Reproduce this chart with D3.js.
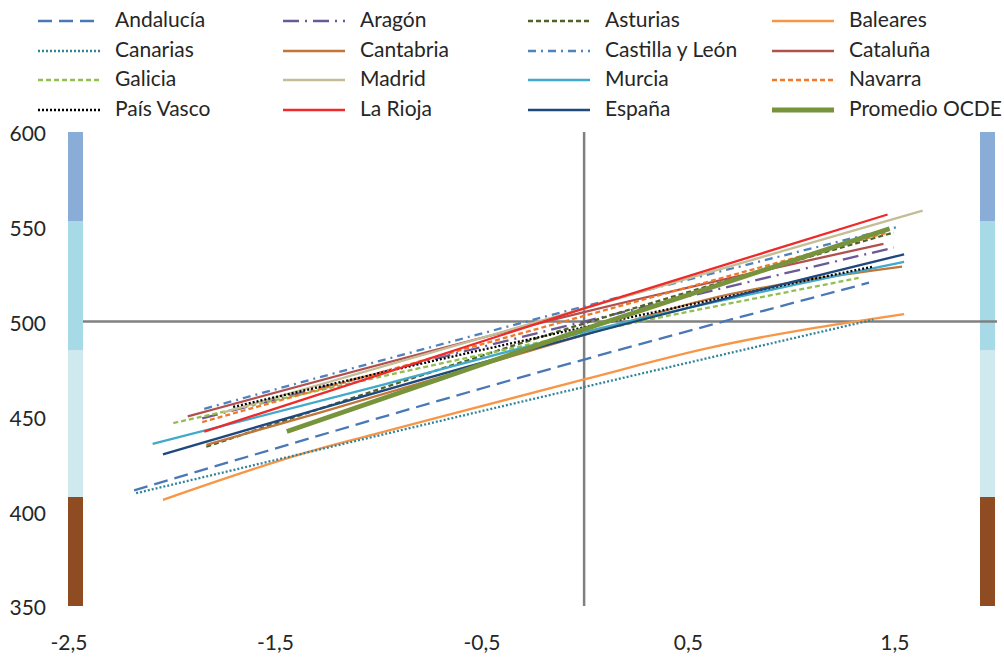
<!DOCTYPE html>
<html><head><meta charset="utf-8">
<script src="https://cdn.jsdelivr.net/npm/d3@7"></script>
<style>
html,body{margin:0;padding:0;background:#fff;}
svg text{font-family:Lato,"Open Sans",sans-serif;fill:#262626;}
</style></head>
<body><svg id="chart" width="1004" height="657"></svg>
<script>
// ---- data ----
const seriesNames = ["Andalucía","Aragón","Asturias","Baleares","Canarias","Cantabria","Castilla y León","Cataluña","Galicia","Madrid","Murcia","Navarra","País Vasco","La Rioja","España","Promedio OCDE"];
// each series: [index value, score]
const andalucia   = [[-2.18,411],[0,480],[1.38,520.5]];
const aragon      = [[-1.85,449],[0,500],[1.50,539]];
const asturias    = [[-1.83,434],[0,499],[1.50,547]];
const baleares    = [[-2.04,406],[-1.28,433],[-1,441],[0,469.5],[0.6,486],[1.55,504]];
const canarias    = [[-2.17,409.5],[0,465.5],[1.40,501]];
const cantabria   = [[-1.83,435],[-1.28,452],[0,493],[0.57,511],[1.54,529]];
const castilla    = [[-1.84,454],[0,508],[1.52,550]];
const cataluna    = [[-1.92,450],[0,505],[1.45,541]];
const galicia     = [[-1.99,446.5],[0,494],[1.33,523]];
const madrid      = [[-1.75,452],[0,507],[1.64,558.5]];
const murcia      = [[-2.09,435.5],[-1,466],[0,494.5],[1.55,531.5]];
const navarra     = [[-1.85,447],[0,503],[1.47,547]];
const paisVasco   = [[-1.70,455],[0,497],[1.40,529]];
const laRioja     = [[-1.84,442],[0,507],[1.47,556.5]];
const espana      = [[-2.04,430],[0,493],[1.55,535.5]];
const ocde        = [[-1.44,442],[0,496],[1.48,549]];
const seriesValues = [andalucia,aragon,asturias,baleares,canarias,cantabria,castilla,cataluna,galicia,madrid,murcia,navarra,paisVasco,laRioja,espana,ocde];

const xTicks = [-2.5,-1.5,-0.5,0.5,1.5];
const yTicks = [350,400,450,500,550,600];
const levelBounds = [350,407.5,485,553,600];   // proficiency bands

// ---- styles ----
const styles = [
  {c:"#4a78b5",w:2.3,d:"14,7"},
  {c:"#6b5896",w:2.3,d:"16,6,2,6"},
  {c:"#4f6228",w:2.3,d:"5,3"},
  {c:"#f79646",w:2.3,d:null},
  {c:"#31849b",w:2.3,d:"2,2"},
  {c:"#c0763a",w:2.3,d:null},
  {c:"#4f81bd",w:2.3,d:"8,5,2,5"},
  {c:"#b2504e",w:2.3,d:null},
  {c:"#92c050",w:2.3,d:"5,3"},
  {c:"#c4bd97",w:2.3,d:null},
  {c:"#41a9c9",w:2.3,d:null},
  {c:"#f0782a",w:2.3,d:"5,3"},
  {c:"#000000",w:2.3,d:"2,2"},
  {c:"#ee2a2a",w:2.3,d:null},
  {c:"#1f497d",w:2.3,d:null},
  {c:"#77933c",w:4.8,d:null}
];
const bandColors = ["#8f4c23","#cfe9ef","#a6dae6","#8aadd7"];

// ---- chart ----
const svg = d3.select("#chart");
const x = d3.scaleLinear().domain([-2.5,2]).range([68,997]);
const y = d3.scaleLinear().domain([350,600]).range([606,132]);

// bands
const bandW = 15;
for (let i=0;i<levelBounds.length-1;i++){
  [x(-2.5), x(2)-bandW-2].forEach(bx=>{
    svg.append("rect").attr("x",bx).attr("width",bandW)
      .attr("y",y(levelBounds[i+1])).attr("height",y(levelBounds[i])-y(levelBounds[i+1]))
      .attr("fill",bandColors[i]);
  });
}

// reference lines
svg.append("line").attr("x1",x(-2.5)+bandW).attr("x2",x(2)).attr("y1",y(500)).attr("y2",y(500))
  .attr("stroke","#808080").attr("stroke-width",2.5);
svg.append("line").attr("x1",x(0)).attr("x2",x(0)).attr("y1",y(600)).attr("y2",y(350))
  .attr("stroke","#808080").attr("stroke-width",2.5);

// y axis labels
svg.selectAll(".yl").data(yTicks).enter().append("text")
  .attr("x",46).attr("y",d=>y(d)+4).attr("text-anchor","end")
  .attr("dominant-baseline","middle").style("font-size","21px").text(d=>d);
// x axis labels
const fmt = d=>d3.format(".1f")(d).replace(".",",").replace("−","-");
svg.selectAll(".xl").data(xTicks).enter().append("text")
  .attr("x",d=>x(d)+1).attr("y",645).attr("text-anchor","middle")
  .attr("dominant-baseline","middle").style("font-size","21px").text(fmt);

// series lines
const line = d3.line().x(d=>x(d[0])).y(d=>y(d[1])).curve(d3.curveMonotoneX);
seriesValues.forEach((pts,i)=>{
  const s = styles[i];
  svg.append("path").attr("d",line(pts)).attr("fill","none")
    .attr("stroke",s.c).attr("stroke-width",s.w)
    .attr("stroke-dasharray",s.d).attr("stroke-linecap","butt");
});

// legend
const colLine = [38,283,528,772], colText=[115,360,605,849], rowY=[21,51,80,110];
seriesNames.forEach((n,i)=>{
  const c=i%4, r=Math.floor(i/4), s=styles[i];
  svg.append("line").attr("x1",colLine[c]).attr("x2",colLine[c]+62)
    .attr("y1",rowY[r]).attr("y2",rowY[r]).attr("stroke",s.c).attr("stroke-width",s.w)
    .attr("stroke-dasharray",s.d);
  svg.append("text").attr("x",colText[c]).attr("y",rowY[r]+1).attr("dominant-baseline","middle")
    .style("font-size","21px").text(n);
});
</script></body></html>
